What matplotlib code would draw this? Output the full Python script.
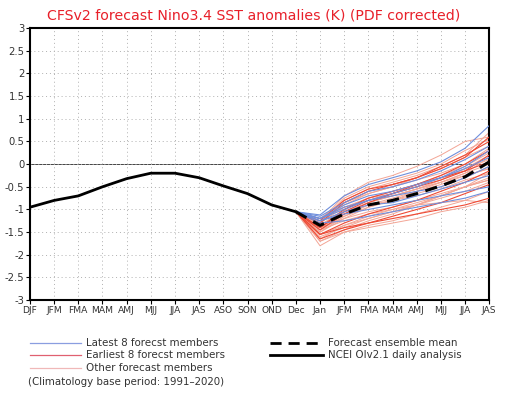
import matplotlib
matplotlib.use('Agg')
import matplotlib.pyplot as plt
import numpy as np

# axis labels
months = ['DJF', 'JFM', 'FMA', 'MAM', 'AMJ', 'MJJ', 'JJA', 'JAS', 'ASO', 'SON',
          'OND', 'Dec', 'Jan', 'JFM', 'FMA', 'MAM', 'AMJ', 'MJJ', 'JJA', 'JAS']

# observed analysis (DJF .. Dec)
observed = [-0.95, -0.8, -0.7, -0.5, -0.32, -0.2, -0.2, -0.3, -0.48, -0.65, -0.9, -1.05]

# forecast members (Dec .. JAS)
latest = [
    [-1.05, -1.12, -0.7, -0.45, -0.3, -0.15, 0.05, 0.35, 0.85],
    [-1.05, -1.2, -0.9, -0.7, -0.6, -0.45, -0.3, -0.1, 0.15],
    [-1.05, -1.25, -1.1, -1.0, -0.9, -0.8, -0.7, -0.6, -0.5],
    [-1.05, -1.2, -0.95, -0.8, -0.65, -0.5, -0.3, -0.05, 0.3],
    [-1.05, -1.3, -1.25, -1.15, -1.05, -0.95, -0.85, -0.75, -0.6],
    [-1.05, -1.15, -0.85, -0.6, -0.5, -0.35, -0.15, 0.1, 0.4],
    [-1.05, -1.25, -1.05, -0.9, -0.85, -0.7, -0.55, -0.4, -0.25],
    [-1.05, -1.2, -1.0, -0.8, -0.7, -0.6, -0.5, -0.3, -0.05],
]
earliest = [
    [-1.05, -1.3, -0.85, -0.6, -0.45, -0.3, -0.1, 0.15, 0.6],
    [-1.05, -1.45, -1.1, -0.85, -0.65, -0.45, -0.25, 0.0, 0.3],
    [-1.05, -1.55, -1.4, -1.3, -1.2, -1.1, -1.0, -0.9, -0.75],
    [-1.05, -1.4, -1.0, -0.75, -0.6, -0.45, -0.3, -0.15, 0.05],
    [-1.05, -1.65, -1.45, -1.3, -1.15, -1.0, -0.85, -0.65, -0.45],
    [-1.05, -1.25, -0.8, -0.55, -0.45, -0.3, -0.05, 0.2, 0.5],
    [-1.05, -1.55, -1.3, -1.1, -0.95, -0.8, -0.6, -0.4, -0.15],
    [-1.05, -1.4, -1.05, -0.8, -0.65, -0.5, -0.35, -0.15, 0.2],
]
others = [
    [-1.05, -1.8, -1.5, -1.35, -1.25, -1.1, -0.95, -0.8, -0.6],
    [-1.05, -1.7, -1.45, -1.25, -1.1, -0.9, -0.7, -0.5, -0.3],
    [-1.05, -1.65, -1.35, -1.15, -1.0, -0.85, -0.7, -0.5, -0.35],
    [-1.05, -1.3, -0.75, -0.5, -0.35, -0.2, 0.0, 0.3, 0.55],
    [-1.05, -1.25, -0.7, -0.4, -0.25, -0.05, 0.2, 0.5, 0.6],
    [-1.05, -1.45, -1.25, -1.1, -1.0, -0.9, -0.85, -0.8, -0.85],
    [-1.05, -1.5, -1.2, -0.95, -0.8, -0.6, -0.4, -0.2, 0.0],
    [-1.05, -1.4, -1.1, -0.9, -0.8, -0.65, -0.5, -0.3, -0.05],
    [-1.05, -1.2, -0.85, -0.65, -0.5, -0.35, -0.2, 0.0, 0.35],
    [-1.05, -1.35, -1.05, -0.85, -0.7, -0.55, -0.4, -0.2, 0.15],
    [-1.05, -1.55, -1.35, -1.2, -1.05, -0.9, -0.75, -0.6, -0.4],
    [-1.05, -1.3, -0.95, -0.75, -0.6, -0.45, -0.25, -0.05, 0.25],
    [-1.05, -1.45, -1.1, -0.85, -0.7, -0.55, -0.35, -0.1, 0.1],
    [-1.05, -1.6, -1.4, -1.2, -1.05, -0.9, -0.7, -0.5, -0.2],
    [-1.05, -1.2, -0.8, -0.55, -0.4, -0.25, -0.05, 0.2, 0.7],
    [-1.05, -1.4, -1.2, -1.05, -0.95, -0.8, -0.65, -0.5, -0.35],
    [-1.05, -1.5, -1.15, -0.9, -0.75, -0.6, -0.45, -0.25, -0.1],
    [-1.05, -1.35, -1.0, -0.75, -0.65, -0.5, -0.3, -0.1, 0.2],
    [-1.05, -1.2, -0.95, -0.8, -0.7, -0.55, -0.4, -0.25, -0.1],
    [-1.05, -1.7, -1.5, -1.4, -1.3, -1.2, -1.05, -0.95, -0.8],
    [-1.05, -1.3, -0.9, -0.65, -0.5, -0.3, -0.1, 0.15, 0.4],
    [-1.05, -1.45, -1.15, -0.95, -0.8, -0.7, -0.55, -0.35, -0.2],
]
ens_mean = [-1.05, -1.35, -1.1, -0.9, -0.8, -0.65, -0.48, -0.28, 0.05]

yticks = np.arange(-3, 3.01, 0.5)

fig = plt.figure(figsize=(5.08, 3.96), dpi=100)
ax = fig.add_axes([0.059, 0.242, 0.904, 0.687])

x_obs = np.arange(len(observed))
x_fc = np.arange(11, 11 + len(ens_mean))

for m in others:
    ax.plot(x_fc, m, color='#f3a595', lw=0.7, zorder=2)
for m in earliest:
    ax.plot(x_fc, m, color='#ee4a35', lw=0.8, zorder=3)
for m in latest:
    ax.plot(x_fc, m, color='#6f8fdd', lw=0.8, zorder=3)

ax.plot(x_fc, ens_mean, color='black', lw=2.2, dashes=(4, 2.5), zorder=5)
ax.plot(x_obs, observed, color='black', lw=2.0, zorder=5)

ax.axhline(0, color='#444444', lw=0.7, zorder=1)

ax.set_xlim(0, len(months) - 1)
ax.set_ylim(-3, 3)
ax.set_xticks(range(len(months)))
ax.set_xticklabels(months, fontsize=6.6, color='#333333')
ax.set_yticks(yticks)
ax.set_yticklabels(['%g' % v if v != 0 else '0' for v in yticks], fontsize=7.2, color='#333333')
ax.tick_params(length=3, width=0.8, pad=1)
ax.grid(True, color='#b0b0b0', ls=(0, (1, 3)), lw=0.7)
for s in ax.spines.values():
    s.set_linewidth(1.5)

fig.text(0.5, 0.962, 'CFSv2 forecast Nino3.4 SST anomalies (K) (PDF corrected)',
         color='#e8202a', fontsize=10.2, ha='center', va='center')

# legend
def leg(x0, x1, y, txt, **kw):
    fig.add_artist(plt.Line2D([x0 / 508, x1 / 508], [1 - y / 396, 1 - y / 396],
                              transform=fig.transFigure, **kw))
    fig.text((x1 + 5) / 508, 1 - y / 396, txt, fontsize=7.4, color='#333333', va='center')

leg(30, 81, 343, 'Latest 8 forecst members', color='#8a9ee0', lw=0.9)
leg(30, 81, 355, 'Earliest 8 forecst members', color='#e06070', lw=0.9)
leg(30, 81, 368, 'Other forecast members', color='#f0b8b8', lw=0.9)
leg(270, 323, 343, 'Forecast ensemble mean', color='black', lw=2, dashes=(4, 2.5))
leg(270, 323, 355, 'NCEI OIv2.1 daily analysis', color='black', lw=2)
fig.text(28 / 508, 1 - 382 / 396, '(Climatology base period: 1991\u20132020)',
         fontsize=7.4, color='#333333', va='center')

fig.savefig('out.png', dpi=100)
